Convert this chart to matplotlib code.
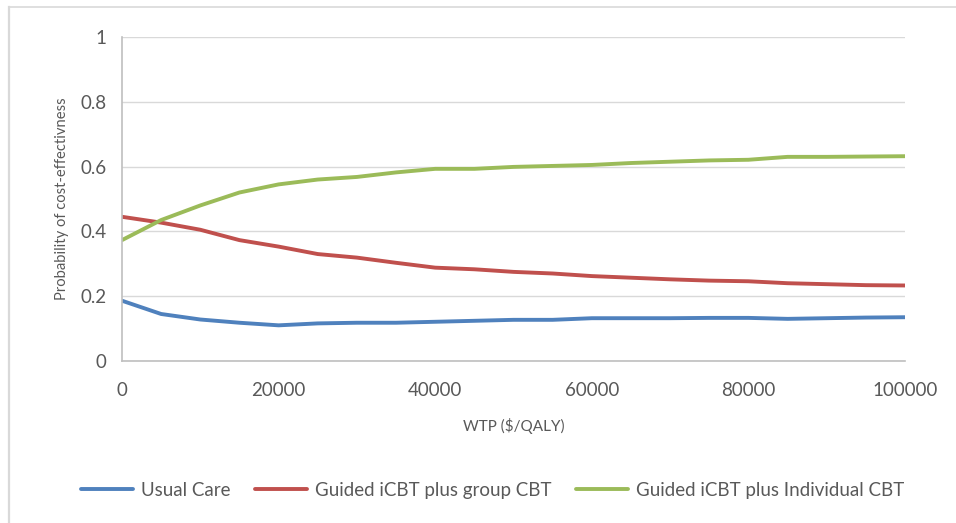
import matplotlib.pyplot as plt
from matplotlib.lines import Line2D

# willingness to pay ($/QALY)
wtp = [0, 5000, 10000, 15000, 20000, 25000, 30000, 35000, 40000, 45000, 50000,
       55000, 60000, 65000, 70000, 75000, 80000, 85000, 90000, 95000, 100000]

usual_care = [0.186, 0.145, 0.128, 0.118, 0.110, 0.116, 0.118, 0.118, 0.121, 0.124, 0.127,
              0.127, 0.132, 0.132, 0.132, 0.133, 0.133, 0.130, 0.132, 0.134, 0.135]
group_cbt = [0.445, 0.427, 0.405, 0.373, 0.353, 0.330, 0.319, 0.303, 0.288, 0.283, 0.275,
             0.270, 0.262, 0.257, 0.252, 0.248, 0.246, 0.240, 0.237, 0.234, 0.233]
indiv_cbt = [0.373, 0.435, 0.480, 0.520, 0.545, 0.560, 0.568, 0.582, 0.593, 0.593, 0.599,
             0.602, 0.605, 0.611, 0.615, 0.619, 0.621, 0.630, 0.630, 0.631, 0.632]

labels = ["Usual Care", "Guided iCBT plus group CBT", "Guided iCBT plus Individual CBT"]
colors = ["#4f81bd", "#c0504d", "#9bbb59"]

plt.rcParams['font.family'] = ['Lato', 'DejaVu Sans']
txt = '#595959'

fig = plt.figure(figsize=(9.56, 5.23), dpi=100)
ax = fig.add_axes([0.1276, 0.3098, 0.8191, 0.6195])

for series, lab, col in zip([usual_care, group_cbt, indiv_cbt], labels, colors):
    ax.plot(wtp, series, color=col, linewidth=2.8, label=lab, solid_capstyle='round')

ax.set_xlim(0, 100000)
ax.set_ylim(0, 1)
ax.set_xticks(range(0, 100001, 20000))
ax.set_yticks([0, 0.2, 0.4, 0.6, 0.8, 1])
ax.set_yticklabels(['0', '0.2', '0.4', '0.6', '0.8', '1'])
ax.grid(axis='y', color='#d9d9d9', linewidth=1)
ax.set_axisbelow(True)
for s in ['top', 'right']:
    ax.spines[s].set_visible(False)
for s in ['left', 'bottom']:
    ax.spines[s].set_color('#bfbfbf')
    ax.spines[s].set_linewidth(1.2)
ax.tick_params(length=0, labelsize=13.5, colors=txt)
ax.tick_params(axis='x', pad=15)
ax.tick_params(axis='y', pad=11)

ax.set_xlabel("WTP ($/QALY)", fontsize=11, color=txt, labelpad=14)
ax.set_ylabel("Probability of cost-effectivness", fontsize=10.6, color=txt, labelpad=8)

fig.legend(loc='center', bbox_to_anchor=(0.515, 0.063), ncol=3, frameon=False,
           fontsize=13.5, handlelength=2.8, columnspacing=1.3, handletextpad=0.4,
           labelcolor=txt)

# chart border (left and top edges only visible)
fig.lines.append(Line2D([0.0095, 0.0095], [0, 0.987], transform=fig.transFigure,
                        color='#d9d9d9', linewidth=1.6))
fig.lines.append(Line2D([0.0095, 1], [0.987, 0.987], transform=fig.transFigure,
                        color='#d9d9d9', linewidth=1.2))

fig.savefig("out.png", dpi=100)
